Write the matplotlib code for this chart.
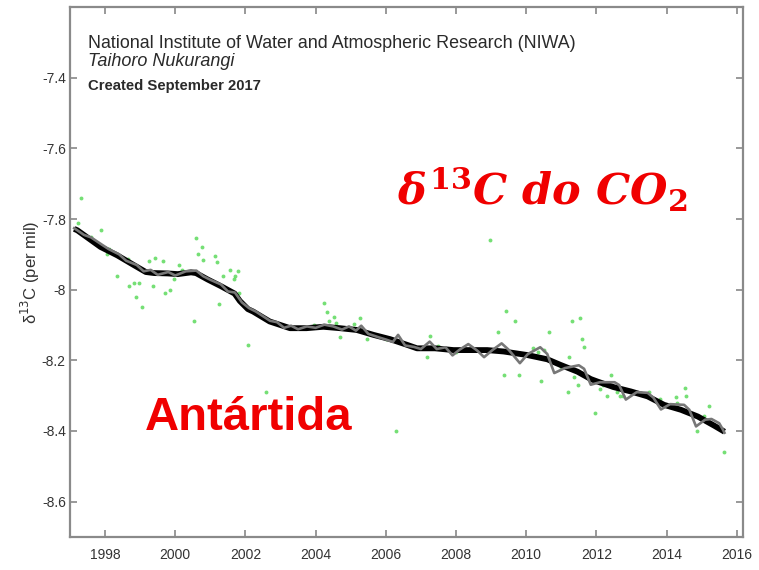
import matplotlib
matplotlib.use("Agg")
import matplotlib.pyplot as plt

plt.rcParams['font.family'] = ['Liberation Sans', 'DejaVu Sans']
plt.rcParams['mathtext.fontset'] = 'custom'
plt.rcParams['mathtext.it'] = 'DejaVu Serif:italic:bold'
plt.rcParams['mathtext.rm'] = 'DejaVu Serif:bold'
plt.rcParams['mathtext.bf'] = 'DejaVu Serif:bold'

# Long-term trend of delta-13C (per mil)
trend_years = [1997.12, 1997.21, 1997.87, 1998.35, 1998.83, 1999.16, 1999.40, 1999.78,
               2000.07, 2000.45, 2000.59, 2000.92, 2001.30, 2001.69, 2001.84, 2002.07,
               2002.22, 2002.69, 2003.27, 2003.74, 2004.22, 2004.69, 2005.17, 2005.65,
               2006.12, 2006.60, 2006.89, 2007.40, 2007.93, 2008.89, 2009.36, 2010.03,
               2010.60, 2010.98, 2011.46, 2011.84, 2012.03, 2012.50, 2012.98, 2013.46,
               2013.93, 2014.41, 2014.89, 2015.36, 2015.65]
trend_values = [-7.828, -7.832, -7.879, -7.903, -7.931, -7.950, -7.953, -7.954,
                -7.956, -7.951, -7.953, -7.971, -7.990, -8.011, -8.032, -8.055,
                -8.062, -8.090, -8.109, -8.109, -8.105, -8.109, -8.114, -8.128,
                -8.140, -8.156, -8.166, -8.166, -8.171, -8.171, -8.175, -8.185,
                -8.197, -8.213, -8.232, -8.253, -8.260, -8.276, -8.288, -8.302,
                -8.326, -8.340, -8.359, -8.385, -8.402]

# Seasonal fit curve
fit_years = [1997.12, 1997.40, 1997.60, 1997.90, 1998.10, 1998.40, 1998.60, 1998.90,
             1999.10, 1999.30, 1999.50, 1999.80, 2000.00, 2000.30, 2000.60, 2000.80,
             2001.00, 2001.30, 2001.50, 2001.70, 2001.90, 2002.10, 2002.30, 2002.50,
             2002.70, 2002.90, 2003.10, 2003.30, 2003.50, 2003.75, 2004.00, 2004.25,
             2004.50, 2004.75, 2004.95, 2005.15, 2005.30, 2005.50, 2005.80, 2006.00,
             2006.20, 2006.35, 2006.55, 2006.80, 2007.00, 2007.25, 2007.45, 2007.70,
             2007.90, 2008.10, 2008.35, 2008.60, 2008.80, 2009.05, 2009.30, 2009.50,
             2009.82, 2010.05, 2010.40, 2010.60, 2010.80, 2011.10, 2011.50, 2011.65,
             2011.84, 2012.10, 2012.52, 2012.65, 2012.84, 2013.15, 2013.46, 2013.62,
             2013.84, 2014.10, 2014.50, 2014.65, 2014.84, 2015.10, 2015.28, 2015.50,
             2015.60, 2015.65]
fit_values = [-7.826, -7.845, -7.852, -7.872, -7.885, -7.900, -7.918, -7.930,
              -7.948, -7.944, -7.958, -7.950, -7.960, -7.948, -7.946, -7.962,
              -7.972, -7.985, -8.005, -8.008, -8.036, -8.052, -8.062, -8.075,
              -8.088, -8.092, -8.108, -8.102, -8.112, -8.104, -8.108, -8.099,
              -8.104, -8.113, -8.104, -8.116, -8.102, -8.125, -8.135, -8.141,
              -8.148, -8.128, -8.158, -8.162, -8.168, -8.147, -8.168, -8.163,
              -8.186, -8.170, -8.154, -8.172, -8.191, -8.170, -8.152, -8.170,
              -8.208, -8.182, -8.163, -8.182, -8.236, -8.222, -8.214, -8.224,
              -8.269, -8.262, -8.262, -8.270, -8.311, -8.290, -8.292, -8.305,
              -8.339, -8.324, -8.326, -8.340, -8.387, -8.368, -8.366, -8.378,
              -8.395, -8.405]

# Individual flask measurements
flask_years = [1997.30, 1997.24, 1997.87, 1998.05, 1998.33, 1998.64, 1999.24, 1999.43,
               1999.66, 2000.11, 1998.69, 1998.83, 1998.97, 1998.87, 1999.06, 1999.36,
               1999.71, 1999.84, 1999.95, 2000.54, 2000.58, 2000.76, 2000.64, 2000.78,
               2001.14, 2001.19, 2001.56, 2001.78, 2001.69, 2001.66, 2001.37, 2001.83,
               2001.26, 2002.08, 2002.60, 2006.29, 2004.23, 2004.31, 2004.53, 2004.39,
               2004.57, 2004.69, 2005.10, 2005.27, 2005.46, 2003.94, 2007.27, 2007.17,
               2009.43, 2009.69, 2009.20, 2009.37, 2009.80, 2010.42, 2010.64, 2008.98,
               2011.31, 2011.53, 2011.59, 2011.66, 2011.23, 2011.36, 2011.48, 2011.20,
               2011.97, 2012.43, 2012.30, 2012.66, 2012.11, 2014.27, 2014.53, 2014.54,
               2015.22, 2015.06, 2014.87, 2015.63,
               1997.60, 1998.10, 1998.50, 2000.20, 2006.00, 2007.50, 2008.00, 2010.20,
               2010.35, 2010.50, 2012.45, 2012.60, 2012.75, 2013.50, 2014.30, 2013.80,
               2012.20, 2011.00]
flask_values = [-7.740, -7.810, -7.830, -7.900, -7.960, -7.914, -7.920, -7.910,
                -7.920, -7.930, -7.990, -7.980, -7.980, -8.020, -8.050, -7.990,
                -8.010, -8.000, -7.970, -8.090, -7.855, -7.880, -7.900, -7.917,
                -7.905, -7.923, -7.945, -7.948, -7.960, -7.970, -7.960, -8.010,
                -8.040, -8.156, -8.290, -8.400, -8.039, -8.063, -8.077, -8.089,
                -8.095, -8.135, -8.098, -8.081, -8.140, -8.100, -8.130, -8.190,
                -8.060, -8.090, -8.119, -8.241, -8.241, -8.258, -8.119, -7.860,
                -8.089, -8.081, -8.140, -8.161, -8.190, -8.246, -8.270, -8.290,
                -8.349, -8.242, -8.300, -8.300, -8.280, -8.304, -8.277, -8.302,
                -8.328, -8.357, -8.400, -8.460,
                -7.850, -7.885, -7.910, -7.945, -8.140, -8.160, -8.175, -8.165,
                -8.175, -8.170, -8.275, -8.290, -8.300, -8.290, -8.320, -8.310,
                -8.270, -8.220]

x_ticks = [1998, 2000, 2002, 2004, 2006, 2008, 2010, 2012, 2014, 2016]
y_ticks = [-7.4, -7.6, -7.8, -8.0, -8.2, -8.4, -8.6]
y_tick_labels = ['-7.4', '-7.6', '-7.8', '-8', '-8.2', '-8.4', '-8.6']

fig = plt.figure(figsize=(7.59, 5.70), dpi=100)
ax = fig.add_axes([0.0922, 0.0579, 0.8868, 0.9298])

ax.plot(flask_years, flask_values, 'o', color='#52d852', markersize=2.8,
        markeredgewidth=0, alpha=0.8, zorder=2)
ax.plot(trend_years, trend_values, '-', color='black', linewidth=4.2,
        solid_capstyle='butt', zorder=3)
ax.plot(fit_years, fit_values, '-', color='#777777', linewidth=1.9, zorder=4)

ax.set_xlim(1997.0, 2016.18)
ax.set_ylim(-8.70, -7.2)
ax.set_xticks(x_ticks)
ax.set_yticks(y_ticks)
ax.set_yticklabels(y_tick_labels)
ax.tick_params(direction='in', length=5, width=1.2, color='#888888',
               top=True, right=True, labelsize=10, labelcolor='#333333', pad=3)
ax.tick_params(axis='x', pad=8)
for sp in ax.spines.values():
    sp.set_color('#8a8a8a')
    sp.set_linewidth(1.6)

ax.set_ylabel(r'δ$^{13}$C (per mil)', fontsize=12, color='#333333',
              math_fontfamily='dejavusans', labelpad=0)

fig.text(88 / 759, 1 - 43 / 570, 'National Institute of Water and Atmospheric Research (NIWA)',
         fontsize=12.9, color='#2a2a2a', va='center', ha='left')
fig.text(88 / 759, 1 - 62 / 570, 'Taihoro Nukurangi', fontsize=13, style='italic',
         color='#2a2a2a', va='center', ha='left')
fig.text(88 / 759, 1 - 86 / 570, 'Created September 2017', fontsize=10.7,
         weight='bold', color='#2a2a2a', va='center', ha='left')

fig.text(397 / 759, 1 - 190 / 570, r'$\delta^{13}C\ do\ CO_2$', fontsize=31,
         color='#f00000', math_fontfamily='custom', va='center', ha='left')
fig.text(145 / 759, 1 - 418 / 570, 'Antártida', fontsize=34, weight='bold',
         color='#f00000', va='center', ha='left')

fig.savefig('out.png', dpi=100)
